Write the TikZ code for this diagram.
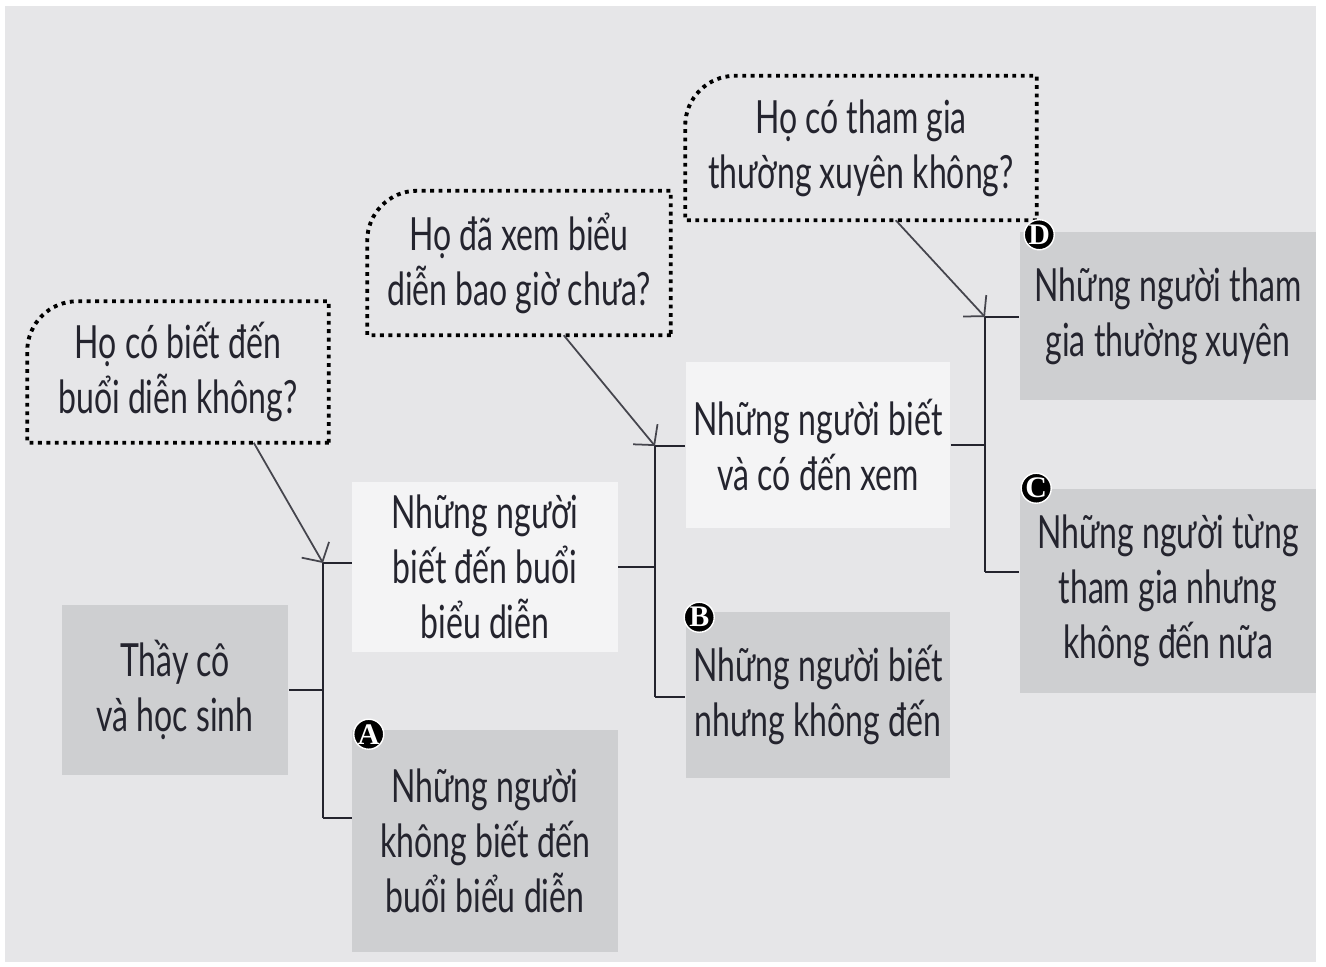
\documentclass[tikz,border=0pt]{standalone}
\usepackage{fontspec}
\setmainfont{Lato}[FakeStretch=0.70]
\newfontfamily\badgefont{Liberation Serif}
\usetikzlibrary{arrows.meta,positioning,calc}
\definecolor{panelgray}{RGB}{230,230,232}
\definecolor{boxgray}{RGB}{206,207,209}
\definecolor{boxlight}{RGB}{244,244,245}
\definecolor{inkdark}{RGB}{36,36,46}
\tikzset{
  base/.style={align=center, inner sep=0pt, text=inkdark,
    font=\fontsize{13}{15.6}\selectfont},
  graybox/.style={base, fill=boxgray},
  lightbox/.style={base, fill=boxlight},
  askbox/.style={base},
  askline/.style={draw=black, line width=1.1pt, dash pattern=on 1.1pt off 1.3pt},
  link/.style={draw=inkdark, line width=0.6pt},
  pointer/.style={draw=inkdark!85, line width=0.5pt,
    -{Straight Barb[length=4pt,width=9pt]}},
  badge/.style={circle, fill=black, draw=white, line width=0.4pt, inner sep=0pt,
    minimum size=0.30cm, text=white, font=\badgefont\bfseries\fontsize{8.5}{8.5}\selectfont}
}

\begin{document}
\begin{tikzpicture}[x=0.01cm, y=-0.01cm]
  \useasboundingbox (0,0) rectangle (1326,967);
  \fill[white] (0,0) rectangle (1326,967);
  \fill[panelgray] (5,6) rectangle (1316,962);

  % level 0 and 1
  \node[graybox, minimum width=2.26cm, minimum height=1.69cm] (root) at (175,690)
    {Thầy cô\\và học sinh};
  \node[lightbox, minimum width=2.65cm, minimum height=1.70cm] (know) at (485,567)
    {Những người\\biết đến buổi\\biểu diễn};
  \node[graybox, minimum width=2.65cm, minimum height=2.22cm] (notknow) at (485,841)
    {Những người\\không biết đến\\buổi biểu diễn};
  \node[askbox, minimum width=3.00cm, minimum height=1.40cm] (ask1) at (178,372)
    {Họ có biết đến\\buổi diễn không?};

  % level 2
  \node[lightbox, minimum width=2.64cm, minimum height=1.66cm] (came) at (818,445)
    {Những người biết\\và có đến xem};
  \node[graybox, minimum width=2.64cm, minimum height=1.66cm] (notcame) at (818,695)
    {Những người biết\\nhưng không đến};
  \node[askbox, minimum width=3.02cm, minimum height=1.43cm] (ask2) at (519,263)
    {Họ đã xem biểu\\diễn bao giờ chưa?};

  % level 3
  \node[graybox, minimum width=2.96cm, minimum height=1.67cm] (regular) at (1168,316)
    {Những người tham\\gia thường xuyên};
  \node[graybox, minimum width=2.96cm, minimum height=2.04cm] (lapsed) at (1168,591)
    {Những người từng\\tham gia nhưng\\không đến nữa};
  \node[askbox, minimum width=3.50cm, minimum height=1.43cm] (ask3) at (861,148)
    {Họ có tham gia\\thường xuyên không?};

  \foreach \q in {ask1,ask2,ask3}
    \draw[askline] (\q.south east) -- (\q.south west) [rounded corners=0.5cm]
      -- (\q.north west) [sharp corners] -- (\q.north east) -- cycle;

  \node[badge] (badgeA) at ([xshift=0.17cm,yshift=-0.05cm]notknow.north west) {A};
  \node[badge] (badgeB) at ([xshift=0.14cm,yshift=-0.06cm]notcame.north west) {B};
  \node[badge] (badgeC) at ([xshift=0.17cm,yshift=-0.00cm]lapsed.north west) {C};
  \node[badge] (badgeD) at ([xshift=0.20cm,yshift=-0.03cm]regular.north west) {D};

  \coordinate (fork1top) at (323,563);
  \coordinate (fork1bot) at (323,818);
  \coordinate (fork2top) at (655,446);
  \coordinate (fork2bot) at (655,697);
  \coordinate (fork3top) at (985,317);
  \coordinate (fork3bot) at (985,572);

  \draw[link] (root.east) -- (root.east -| fork1top);
  \draw[link] (fork1top) -- (fork1bot);
  \draw[link] (fork1top) -- (fork1top -| know.west);
  \draw[link] (fork1bot) -- (fork1bot -| notknow.west);

  \draw[link] (know.east) -- (know.east -| fork2top);
  \draw[link] (fork2top) -- (fork2bot);
  \draw[link] (fork2top) -- (fork2top -| came.west);
  \draw[link] (fork2bot) -- (fork2bot -| notcame.west);

  \draw[link] (came.east) -- (came.east -| fork3top);
  \draw[link] (fork3top) -- (fork3bot);
  \draw[link] (fork3top) -- (fork3top -| regular.west);
  \draw[link] (fork3bot) -- (fork3bot -| lapsed.west);

  \draw[pointer] ([xshift=-0.75cm]ask1.south east) -- (fork1top);
  \draw[pointer] ([xshift=-1.07cm]ask2.south east) -- (fork2top);
  \draw[pointer] ([xshift=-1.41cm]ask3.south east) -- (fork3top);
\end{tikzpicture}
\end{document}
